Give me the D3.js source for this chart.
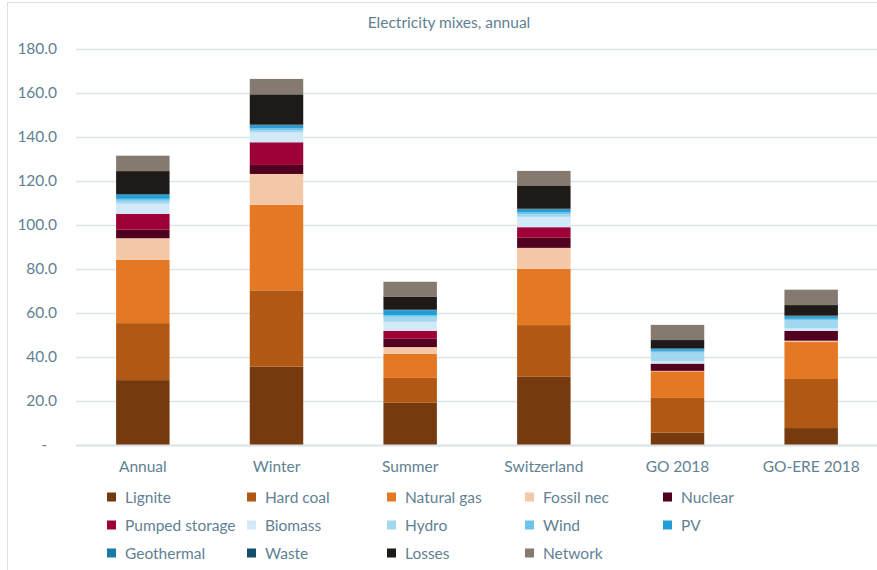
<!DOCTYPE html>
<html>
<head>
<meta charset="utf-8">
<script src="https://cdn.jsdelivr.net/npm/d3@7"></script>
<style>
  html, body { margin: 0; padding: 0; background: #fff; }
  svg { display: block; font-family: Lato, "Open Sans", sans-serif; }
</style>
</head>
<body>
<svg id="chart" width="877" height="570"></svg>
<script>
// Electricity mix by scenario, stacked by source
const categories = ["Annual", "Winter", "Summer", "Switzerland", "GO 2018", "GO-ERE 2018"];
const sources = ["Lignite", "Hard coal", "Natural gas", "Fossil nec", "Nuclear", "Pumped storage",
                 "Biomass", "Hydro", "Wind", "PV", "Geothermal", "Waste", "Losses", "Network"];

const lignite       = [29.5, 35.6, 19.2, 31.0,  5.6,  7.7];
const hardCoal      = [25.9, 34.7, 11.3, 23.5, 15.8, 22.3];
const naturalGas    = [28.8, 38.9, 10.9, 25.6, 12.1, 16.8];
const fossilNec     = [ 9.8, 14.0,  3.1,  9.5,  0.2,  0.6];
const nuclear       = [ 4.0,  4.1,  3.8,  4.6,  3.3,  4.5];
const pumpedStorage = [ 7.1, 10.3,  3.6,  4.8,  0.0,  0.0];
const biomass       = [ 4.6,  4.5,  4.1,  4.7,  1.1,  1.1];
const hydro         = [ 1.3,  1.1,  2.3,  1.3,  3.9,  3.8];
const wind          = [ 0.9,  0.9,  0.7,  0.9,  0.8,  0.6];
const pv            = [ 1.7,  1.0,  2.2,  1.0,  0.7,  0.9];
const geothermal    = [ 0.2,  0.2,  0.1,  0.2,  0.2,  0.2];
const waste         = [ 0.3,  0.3,  0.2,  0.3,  0.3,  0.3];
const losses        = [10.4, 13.8,  6.0, 10.6,  3.7,  4.8];
const network       = [ 7.0,  7.0,  6.7,  6.6,  6.9,  7.0];

const yTicks = [0, 20, 40, 60, 80, 100, 120, 140, 160, 180];

const colors = ["#753b0f", "#b05814", "#e57822", "#f4c8a7", "#520020", "#9e0038",
                "#d2eaf7", "#a2d8ef", "#6ec3ea", "#1f9ed8", "#1a7aa8", "#144e6b",
                "#1e1a17", "#857a70"];

const seriesValues = [lignite, hardCoal, naturalGas, fossilNec, nuclear, pumpedStorage,
                      biomass, hydro, wind, pv, geothermal, waste, losses, network];

// Rows for d3.stack
const rows = categories.map((c, i) => {
  const r = { category: c };
  sources.forEach((s, k) => { r[s] = seriesValues[k][i]; });
  return r;
});

const svg = d3.select("#chart");
const textColor = "#5f8193";
const fontSize = 15.5;

// Chart frame
svg.append("rect")
  .attr("x", 7.5).attr("y", 2.5).attr("width", 880).attr("height", 580)
  .attr("fill", "none").attr("stroke", "#d9e1e6").attr("stroke-width", 1);

const x = d3.scaleBand().domain(categories).range([76, 878]).paddingInner(0.6).paddingOuter(0.3);
const y = d3.scaleLinear().domain([0, 180]).range([445, 49]);

// Title
svg.append("text")
  .attr("x", 449).attr("y", 28)
  .attr("text-anchor", "middle")
  .attr("font-size", fontSize)
  .attr("fill", textColor)
  .text("Electricity mixes, annual");

// Gridlines and y labels
const yAxis = d3.axisLeft(y)
  .tickValues(yTicks)
  .tickSize(-(878 - 76))
  .tickPadding(19)
  .tickFormat(d => d === 0 ? "-" : d3.format(".1f")(d));

const gy = svg.append("g").attr("transform", "translate(76,0)").call(yAxis);
gy.select(".domain").remove();
gy.selectAll(".tick line").attr("stroke", "#dde4e8").attr("stroke-width", 1.3);
gy.selectAll(".tick text")
  .attr("fill", textColor)
  .attr("font-size", fontSize)
  .attr("font-family", "Lato, 'Open Sans', sans-serif");
gy.selectAll(".tick").filter(d => d === 0).select("text").attr("dx", -10);

// Stacked bars
const stacked = d3.stack().keys(sources)(rows);

svg.append("g").selectAll("g")
  .data(stacked)
  .join("g")
  .attr("fill", (d, i) => colors[i])
  .selectAll("rect")
  .data(d => d)
  .join("rect")
  .attr("x", d => x(d.data.category))
  .attr("width", x.bandwidth())
  .attr("y", d => y(d[1]))
  .attr("height", d => Math.max(0, y(d[0]) - y(d[1])));

// Baseline
svg.append("line")
  .attr("x1", 76).attr("x2", 878)
  .attr("y1", y(0) + 0.5).attr("y2", y(0) + 0.5)
  .attr("stroke", "#dde4e8").attr("stroke-width", 2);

// Category labels
const xAxis = d3.axisBottom(x).tickSize(0).tickPadding(16);
const gx = svg.append("g").attr("transform", `translate(0,${y(0)})`).call(xAxis);
gx.select(".domain").remove();
gx.selectAll(".tick text")
  .attr("fill", textColor)
  .attr("font-size", fontSize)
  .attr("font-family", "Lato, 'Open Sans', sans-serif");

// Legend
const legendCols = [107, 247, 387, 525, 663];
const legendRows = [497, 525, 553];
const legendLayout = [
  [0, 1, 2, 3, 4],
  [5, 6, 7, 8, 9],
  [10, 11, 12, 13]
];
const legend = svg.append("g");
legendLayout.forEach((row, ri) => {
  row.forEach((k, ci) => {
    const g = legend.append("g")
      .attr("transform", `translate(${legendCols[ci]},${legendRows[ri]})`);
    g.append("rect")
      .attr("x", 0).attr("y", -4.5).attr("width", 9).attr("height", 9)
      .attr("fill", colors[k]);
    g.append("text")
      .attr("x", 18).attr("y", 6)
      .attr("font-size", fontSize)
      .attr("fill", textColor)
      .text(sources[k]);
  });
});
</script>
</body>
</html>
